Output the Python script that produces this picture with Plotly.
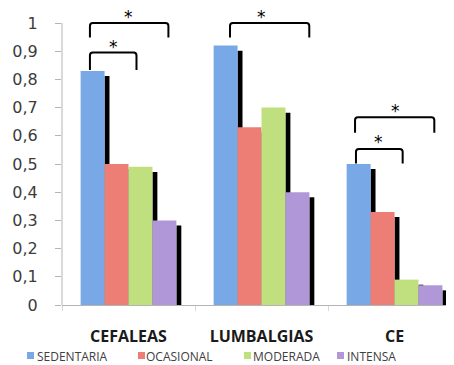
import plotly.graph_objects as go

# ---------------- data ----------------
categories = ["CEFALEAS", "LUMBALGIAS", "CE"]
series_names = ["SEDENTARIA", "OCASIONAL", "MODERADA", "INTENSA"]
sedentaria = [0.83, 0.92, 0.50]
ocasional = [0.50, 0.63, 0.33]
moderada = [0.49, 0.70, 0.09]
intensa = [0.30, 0.40, 0.07]
y_tick_vals = [0, 0.1, 0.2, 0.3, 0.4, 0.5, 0.6, 0.7, 0.8, 0.9, 1]
y_tick_text = ["0", "0,1", "0,2", "0,3", "0,4", "0,5", "0,6", "0,7", "0,8", "0,9", "1"]

# significance brackets: (left x, right x, top y, leg-bottom y) in category units
brackets = [
    (-0.29, 0.30, 1.000, 0.949),
    (-0.29, 0.06, 0.895, 0.833),
    (0.763, 1.359, 1.000, 0.949),
    (1.703, 2.299, 0.666, 0.611),
    (1.710, 2.061, 0.553, 0.502),
]
stars = [(0.0, 1.034), (-0.114, 0.928), (1.001, 1.034), (2.004, 0.703), (1.883, 0.591)]

# ---------------- style ----------------
colors = ["#78a8e6", "#ec7e76", "#c0e07f", "#b098d8"]
all_values = [sedentaria, ocasional, moderada, intensa]
BW = 0.18
SH_W = 0.037
SH_DY = 0.018

# page body adds an 8px offset; figure coordinates below are screen - 8
OFF = 8
W, H = 454 - OFF, 365 - OFF
ML, MR, MT = 62 - OFF, 0, 0
AXIS_Y = 305 - OFF
PH = AXIS_Y - MT
MB = H - AXIS_Y
PW = W - ML - MR
Y_TOP = AXIS_Y / 282.0

fig = go.Figure()

# shadows first (covered by neighbouring bars)
for i, vals in enumerate(all_values):
    fig.add_trace(go.Bar(
        x=categories, y=[v - SH_DY for v in vals],
        width=SH_W, offset=-2 * BW + (i + 1) * BW,
        marker=dict(color="black", line=dict(width=0)),
        showlegend=False, hoverinfo="skip",
    ))

for i, (name, vals) in enumerate(zip(series_names, all_values)):
    fig.add_trace(go.Bar(
        x=categories, y=vals, name=name,
        width=BW, offset=-2 * BW + i * BW,
        marker=dict(color=colors[i], line=dict(width=0)),
        showlegend=False,
    ))

shapes = []
rx, ry = 0.022, 0.010
for (x0, x1, yt, yb) in brackets:
    path = (f"M{x0},{yb} L{x0},{yt - ry} Q{x0},{yt} {x0 + rx},{yt} "
            f"L{x1 - rx},{yt} Q{x1},{yt} {x1},{yt - ry} L{x1},{yb}")
    shapes.append(dict(type="path", xref="x", yref="y", path=path,
                       line=dict(color="black", width=2)))

# y axis line from 0 to 1
shapes.append(dict(type="line", xref="paper", yref="y", x0=0, x1=0, y0=0, y1=1,
                   line=dict(color="#b4b4b4", width=1)))

annotations = []
for (sx, sy) in stars:
    annotations.append(dict(x=sx, y=sy, xref="x", yref="y", text="*", showarrow=False,
                            font=dict(family="DejaVu Sans", size=17, color="black"),
                            xanchor="center", yanchor="middle", yshift=-4))

# custom legend (positions in screen pixels)
def px2paper_x(px):
    return (px - OFF - ML) / PW

def py2paper_y(py):
    return (MT + PH - (py - OFF)) / PH

legend_sq_x = [27, 138, 244, 337]
legend_txt_x = [36, 145, 252, 346]
for i, name in enumerate(series_names):
    shapes.append(dict(type="rect", xref="paper", yref="paper",
                       x0=px2paper_x(legend_sq_x[i]), x1=px2paper_x(legend_sq_x[i] + 7),
                       y0=py2paper_y(352), y1=py2paper_y(359),
                       fillcolor=colors[i], line=dict(width=0)))
    annotations.append(dict(x=px2paper_x(legend_txt_x[i]), y=py2paper_y(347),
                            xref="paper", yref="paper", text=name, showarrow=False,
                            xanchor="left", yanchor="top", borderpad=0,
                            font=dict(family="Open Sans", size=12, color="#404040")))

fig.update_layout(
    width=W, height=H,
    margin=dict(l=ML, r=MR, t=MT, b=MB, pad=0),
    barmode="overlay",
    plot_bgcolor="white", paper_bgcolor="white",
    showlegend=False,
    shapes=shapes, annotations=annotations,
    xaxis=dict(
        type="category", categoryorder="array", categoryarray=categories,
        range=[-0.5, 2.447],
        showline=True, linecolor="#b4b4b4", linewidth=1,
        ticks="outside", tickson="boundaries", ticklen=5, tickcolor="#d8d8d8",
        showgrid=False, zeroline=False,
        tickfont=dict(family="Open Sans", size=16, color="#1a1a1a", weight="bold"),
        ticklabelstandoff=17,
    ),
    yaxis=dict(
        range=[0, Y_TOP],
        tickvals=y_tick_vals, ticktext=y_tick_text,
        showline=False, showgrid=False, zeroline=False,
        ticks="outside", ticklen=6, tickcolor="#b4b4b4",
        tickfont=dict(family="DejaVu Sans", size=16, color="#3c3c3c"),
        ticklabelstandoff=14,
    ),
)

fig.write_html("out.html")
